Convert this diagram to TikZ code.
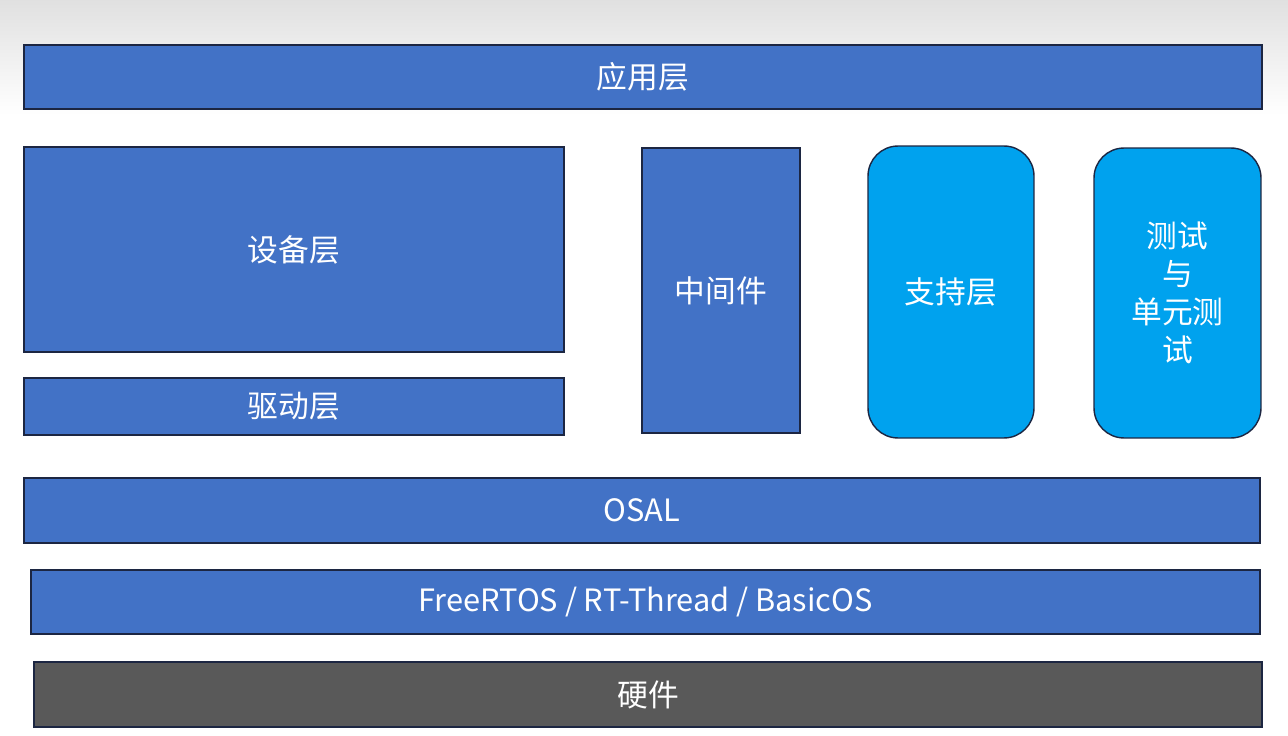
\documentclass[tikz,border=0pt]{standalone}
\usepackage{fontspec}
\setmainfont{Noto Sans CJK SC}
\definecolor{layerblue}{RGB}{66,114,198}
\definecolor{skyblue}{RGB}{0,162,238}
\definecolor{hwgray}{RGB}{89,89,89}
\definecolor{edgenavy}{RGB}{28,38,66}
\usetikzlibrary{positioning}

\begin{document}
\begin{tikzpicture}[
  x=0.02cm, y=-0.02cm,
  layer/.style={draw=edgenavy, line width=0.8pt, fill=layerblue, text=white, inner sep=0pt, outer sep=0pt, align=center, font=\fontsize{17.5}{21.5}\selectfont},
  side/.style={layer, fill=skyblue, rounded corners=0.6cm},
  hw/.style={layer, fill=hwgray}
]
  % background
  \useasboundingbox (0,0) rectangle (1288,736);
  \fill[white] (0,0) rectangle (1288,736);
  \shade[top color=black!12, bottom color=white] (0,0) rectangle (1288,115);

  % ── top ──
  \node[layer, minimum width=24.76cm, minimum height=1.28cm] (app) at (643,77) {应用层};

  % ── middle ──
  \node[layer, minimum width=10.8cm, minimum height=4.1cm] (dev) at (294,249.5) {设备层};
  \node[layer, minimum width=10.8cm, minimum height=1.14cm] (drv) at (294,406.5) {驱动层};
  \node[layer, minimum width=3.16cm, minimum height=5.7cm] (mid) at (721,290.5) {中间件};
  \node[side, minimum width=3.32cm, minimum height=5.84cm] (sup) at (951,292) {支持层};
  \node[side, minimum width=3.34cm, minimum height=5.8cm] (test) at (1177.5,293) {测试\\与\\单元测\\试};

  % ── bottom ──
  \node[layer, minimum width=24.72cm, minimum height=1.3cm] (osal) at (642,510.5) {OSAL};
  \node[layer, minimum width=24.58cm, minimum height=1.28cm] (rtos) at (645.5,602) {FreeRTOS / RT-Thread / BasicOS};
  \node[hw, minimum width=24.56cm, minimum height=1.3cm] (hard) at (648,694.5) {硬件};
\end{tikzpicture}
\end{document}
